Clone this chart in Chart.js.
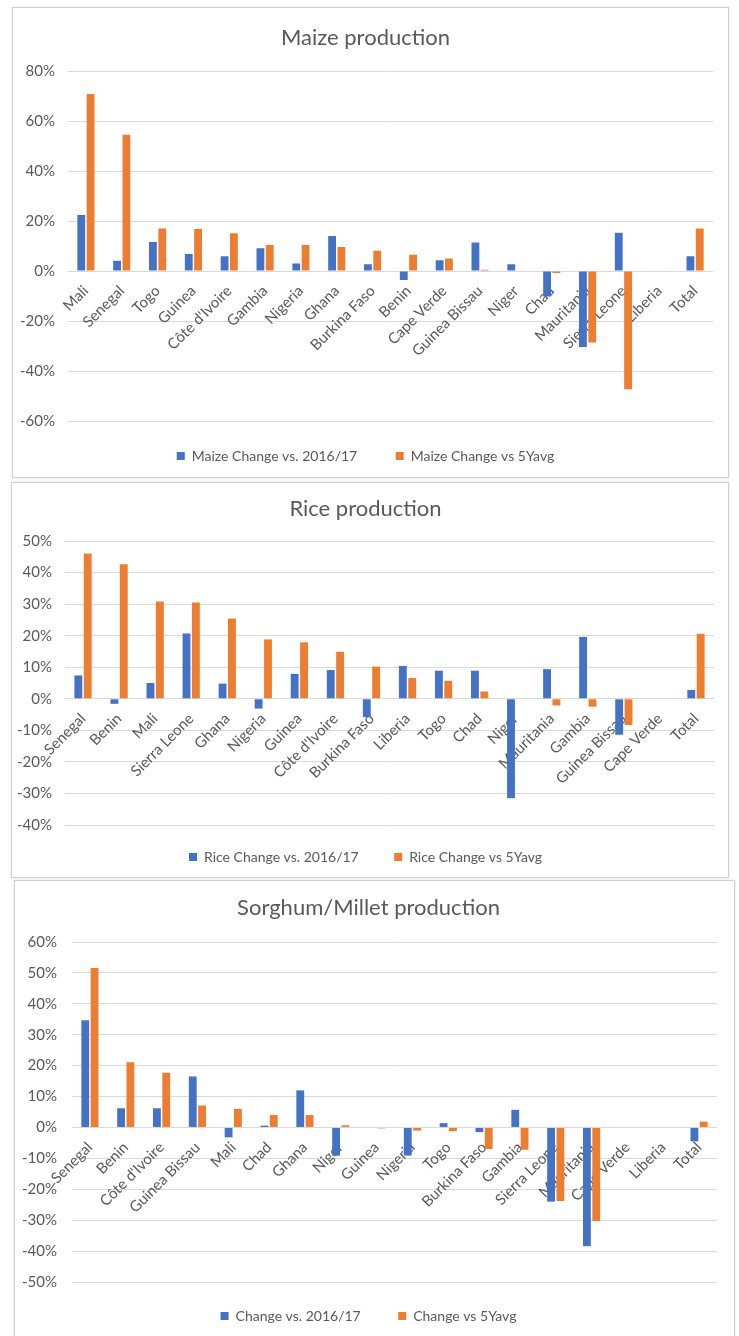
<!DOCTYPE html>
<html>
<head>
<meta charset="utf-8">
<script src="https://cdn.jsdelivr.net/npm/chart.js@4"></script>
<style>
    html, body { margin: 0; padding: 0; background: #fff; }
    body { width: 739px; height: 1336px; overflow: hidden; position: relative; font-family: Lato, sans-serif; }
    .panel { position: absolute; border: 1px solid #d0d0d0; background: #fff; box-shadow: 0 0 2px rgba(0,0,0,0.12); }
    .panel canvas { display: block; }
</style>
</head>
<body>
<div class="panel" style="left:12px; top:7px; width:715px; height:469px;">
    <canvas id="maizeChart" width="715" height="469"></canvas>
</div>
<div class="panel" style="left:11px; top:482px; width:716px; height:394px;">
    <canvas id="riceChart" width="716" height="394"></canvas>
</div>
<div class="panel" style="left:14px; top:880px; width:719px; height:468px;">
    <canvas id="sorghumChart" width="719" height="468"></canvas>
</div>

<script>
// --- Maize data ---
const maizeCountries = ['Mali', 'Senegal', 'Togo', 'Guinea', "Côte d'Ivoire", 'Gambia', 'Nigeria', 'Ghana', 'Burkina Faso',
    'Benin', 'Cape Verde', 'Guinea Bissau', 'Niger', 'Chad', 'Mauritania', 'Sierra Leone', 'Liberia', 'Total'];
const maizeVs2016 = [22.4, 4.1, 11.6, 6.8, 5.9, 9.1, 3.0, 14.0, 2.7, -3.6, 4.3, 11.4, 2.7, -10.2, -30.4, 15.3, 0, 5.9];
const maizeVs5Y = [70.8, 54.5, 17.0, 16.8, 15.1, 10.4, 10.4, 9.6, 8.1, 6.5, 5.0, 0.5, 0, -0.8, -28.6, -47.3, 0, 17.0];
const maizeTicks = [-60, 80, 20];

// --- Rice data ---
const riceCountries = ['Senegal', 'Benin', 'Mali', 'Sierra Leone', 'Ghana', 'Nigeria', 'Guinea', "Côte d'Ivoire", 'Burkina Faso',
    'Liberia', 'Togo', 'Chad', 'Niger', 'Mauritania', 'Gambia', 'Guinea Bissau', 'Cape Verde', 'Total'];
const riceVs2016 = [7.4, -1.6, 5.0, 20.7, 4.8, -3.1, 7.9, 9.1, -5.8, 10.4, 8.9, 8.9, -31.5, 9.4, 19.6, -11.4, 0, 2.8];
const riceVs5Y = [46.0, 42.6, 30.8, 30.5, 25.4, 18.8, 17.9, 14.9, 10.2, 6.6, 5.7, 2.3, 0, -2.1, -2.5, -8.3, 0, 20.6];
const riceTicks = [-40, 50, 10];

// --- Sorghum/Millet data ---
const sorghumCountries = ['Senegal', 'Benin', "Côte d'Ivoire", 'Guinea Bissau', 'Mali', 'Chad', 'Ghana', 'Niger', 'Guinea',
    'Nigeria', 'Togo', 'Burkina Faso', 'Gambia', 'Sierra Leone', 'Mauritania', 'Cape Verde', 'Liberia', 'Total'];
const sorghumVs2016 = [34.7, 6.2, 6.2, 16.5, -3.2, 0.6, 12.0, -9.1, 0, -9.1, 1.4, -1.5, 5.7, -24.0, -38.4, 0, 0, -4.5];
const sorghumVs5Y = [51.6, 21.1, 17.7, 7.1, 6.0, 4.0, 4.0, 0.7, -0.3, -1.0, -1.2, -7.0, -7.2, -23.8, -30.3, 0, 0, 1.9];
const sorghumTicks = [-50, 60, 10];

const BLUE = '#4472C4';
const ORANGE = '#ED7D31';
const TEXT = '#595959';
const GRID = '#d9d9d9';
const FONT = 'Lato, "Open Sans", sans-serif';

function drawProductionChart(id, title, labels, blueName, blueData, orangeName, orangeData, ticks, box) {
    const ctx = document.getElementById(id);
    if (!ctx) return;
    new Chart(ctx, {
        type: 'bar',
        data: {
            labels: labels,
            datasets: [
                { label: blueName, data: blueData, backgroundColor: BLUE, categoryPercentage: 0.52, barPercentage: 0.84 },
                { label: orangeName, data: orangeData, backgroundColor: ORANGE, categoryPercentage: 0.52, barPercentage: 0.84 }
            ]
        },
        options: {
            responsive: false,
            animation: false,
            layout: { padding: { left: box.left, right: box.right, top: 0, bottom: box.bottom } },
            plugins: {
                title: {
                    display: true,
                    text: title,
                    color: TEXT,
                    font: { family: FONT, size: 22, weight: 'normal', lineHeight: 1 },
                    padding: { top: box.titleTop, bottom: box.titleBottom }
                },
                legend: {
                    position: 'bottom',
                    labels: {
                        boxWidth: 8,
                        boxHeight: 8,
                        padding: box.legendPad,
                        color: TEXT,
                        font: { family: FONT, size: 14 },
                        // a bit more room between the two entries, like Excel
                        generateLabels: chart => Chart.defaults.plugins.legend.labels.generateLabels(chart)
                            .map((item, i) => i === 0 ? { ...item, text: item.text + '\u2003' } : item)
                    }
                },
                tooltip: { enabled: false }
            },
            scales: {
                x: {
                    position: { y: 0 },
                    grid: { display: false },
                    border: { display: false },
                    ticks: {
                        color: TEXT,
                        font: { family: FONT, size: 15 },
                        autoSkip: false,
                        maxRotation: 45,
                        minRotation: 45,
                        padding: 3
                    }
                },
                y: {
                    min: ticks[0],
                    max: ticks[1],
                    grid: { color: GRID, drawTicks: false },
                    border: { display: false },
                    ticks: {
                        stepSize: ticks[2],
                        color: TEXT,
                        font: { family: FONT, size: 15 },
                        padding: box.tickPad,
                        callback: v => v + '%'
                    },
                    afterFit: scale => { scale.width = box.axisWidth; }
                }
            }
        }
    });
}

// --- Maize production ---
drawProductionChart('maizeChart', 'Maize production', maizeCountries,
    'Maize Change vs. 2016/17', maizeVs2016, 'Maize Change vs 5Yavg', maizeVs5Y, maizeTicks,
    { left: 5, axisWidth: 50, right: 15, bottom: 4, titleTop: 19, titleBottom: 22, legendPad: 28, tickPad: 13 });

// --- Rice production ---
drawProductionChart('riceChart', 'Rice production', riceCountries,
    'Rice Change vs. 2016/17', riceVs2016, 'Rice Change vs 5Yavg', riceVs5Y, riceTicks,
    { left: 5, axisWidth: 48, right: 14, bottom: 3, titleTop: 15, titleBottom: 21, legendPad: 25, tickPad: 13 });

// --- Sorghum/Millet production ---
drawProductionChart('sorghumChart', 'Sorghum/Millet production', sorghumCountries,
    'Change vs. 2016/17', sorghumVs2016, 'Change vs 5Yavg', sorghumVs5Y, sorghumTicks,
    { left: 5, axisWidth: 52, right: 17, bottom: 16, titleTop: 16, titleBottom: 23, legendPad: 27, tickPad: 15 });
</script>
</body>
</html>
